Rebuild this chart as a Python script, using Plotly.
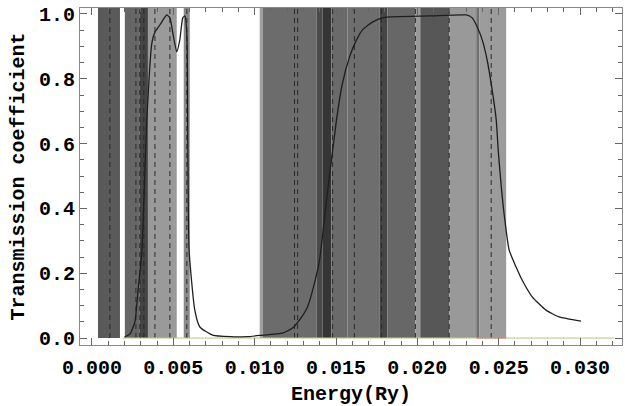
import plotly.graph_objects as go

# ---- data ----
energy = [0.0020, 0.00233, 0.00264, 0.00282, 0.00307, 0.00337, 0.00368, 0.00387, 0.00417,
          0.00448, 0.0046, 0.00479, 0.00497, 0.00521, 0.0054, 0.00558, 0.00571, 0.00583,
          0.00589, 0.00597, 0.00632, 0.00663, 0.00742, 0.0085, 0.0095, 0.0103, 0.01172,
          0.01233, 0.01276, 0.01325, 0.01368, 0.01399, 0.01442, 0.01503, 0.0154, 0.01583,
          0.01626, 0.01663, 0.01724, 0.01785, 0.01828, 0.02074, 0.02301, 0.02337, 0.02368,
          0.02399, 0.02429, 0.0246, 0.02485, 0.02497, 0.02515, 0.02534, 0.02564, 0.02607,
          0.02644, 0.02706, 0.02791, 0.02871, 0.03006]
transmission = [0.003, 0.012, 0.05, 0.14, 0.27, 0.673, 0.91, 0.944, 0.966,
                0.99, 0.997, 0.988, 0.941, 0.883, 0.92, 0.988, 0.994, 0.941,
                0.6, 0.27, 0.086, 0.034, 0.009, 0.004, 0.004, 0.008, 0.015,
                0.031, 0.056, 0.096, 0.17, 0.241, 0.426, 0.673, 0.787, 0.867,
                0.92, 0.951, 0.975, 0.988, 0.991, 0.994, 0.997, 0.988, 0.96,
                0.92, 0.858, 0.765, 0.673, 0.58, 0.472, 0.38, 0.272, 0.219,
                0.179, 0.127, 0.086, 0.065, 0.052]

# energy bands (start, end) in Ry
band_start = [0.00037, 0.00202, 0.00294, 0.00344, 0.00564, 0.01031, 0.01049, 0.0138, 0.01417,
              0.01472, 0.01571, 0.01767, 0.01816, 0.01988, 0.02018, 0.02196, 0.02362, 0.0238]
band_end = [0.00172, 0.00294, 0.00344, 0.00521, 0.00601, 0.01049, 0.0138, 0.01417, 0.01472,
            0.01571, 0.01767, 0.01816, 0.01988, 0.02018, 0.02196, 0.02362, 0.0238, 0.02546]
band_color = ["#5a5a5a", "#666666", "#444444", "#9a9a9a", "#8a8a8a", "#a0a0a0", "#6c6c6c",
              "#4a4a4a", "#353535", "#6a6a6a", "#6e6e6e", "#454545", "#676767", "#9a9a9a",
              "#575757", "#999999", "#707070", "#9c9c9c"]

# dashed level lines in Ry
levels = [0.0011, 0.0027, 0.00294, 0.00319, 0.00387, 0.00479, 0.00583, 0.01245, 0.01264,
          0.01479, 0.01613, 0.01779, 0.01988, 0.02196, 0.02454]

baseline_x = [0.0019, 0.0321]
red_x = [0.02362, 0.02546]

x_range = [-0.000736, 0.03258]
y_range = [-0.0216, 1.0185]

fig = go.Figure()

shapes = []
for x0, x1, c in zip(band_start, band_end, band_color):
    shapes.append(dict(type="rect", xref="x", yref="y", x0=x0, x1=x1, y0=0, y1=y_range[1],
                       fillcolor=c, line=dict(width=0), layer="below"))
for lv in levels:
    shapes.append(dict(type="line", xref="x", yref="y", x0=lv, x1=lv, y0=0, y1=y_range[1],
                       line=dict(color="#2a2a2a", width=1, dash="5px,4px"), layer="below"))

fig.add_trace(go.Scatter(x=baseline_x, y=[0, 0], mode="lines",
                         line=dict(color="#b8c878", width=1), showlegend=False, hoverinfo="skip"))
fig.add_trace(go.Scatter(x=red_x, y=[0, 0], mode="lines",
                         line=dict(color="#d07070", width=1), showlegend=False, hoverinfo="skip"))
fig.add_trace(go.Scatter(x=energy, y=transmission, mode="lines",
                         line=dict(color="#1e1e1e", width=1.3, shape="spline", smoothing=0.5),
                         showlegend=False))

font_family = "Liberation Mono"
fig.update_layout(
    width=625, height=406,
    margin=dict(l=80, r=3, t=8, b=61),
    paper_bgcolor="white", plot_bgcolor="white",
    shapes=shapes,
    font=dict(family=font_family, color="black"),
)
fig.update_xaxes(
    range=x_range, showgrid=False, zeroline=False,
    showline=True, linecolor="#888888", linewidth=1, mirror="ticks",
    ticks="inside", ticklen=7, tickcolor="#666666", tickwidth=1,
    tick0=0, dtick=0.005, tickformat=".3f", ticklabelstandoff=4,
    tickfont=dict(family=font_family, size=20, weight="bold"),
    minor=dict(dtick=0.001, ticklen=4, tickcolor="#666666", ticks="inside"),
    title=dict(text="Energy(Ry)", font=dict(family=font_family, size=20, weight="bold"), standoff=6),
)
fig.update_yaxes(
    range=y_range, showgrid=False, zeroline=False,
    showline=True, linecolor="#888888", linewidth=1, mirror="ticks",
    ticks="inside", ticklen=7, tickcolor="#666666", tickwidth=1,
    tick0=0, dtick=0.2, tickformat=".1f",
    tickfont=dict(family=font_family, size=20, weight="bold"),
    minor=dict(dtick=0.05, ticklen=4, tickcolor="#666666", ticks="inside"),
    title=dict(text="Transmission coefficient", font=dict(family=font_family, size=20, weight="bold"), standoff=8),
)

fig.write_html("out.html")
